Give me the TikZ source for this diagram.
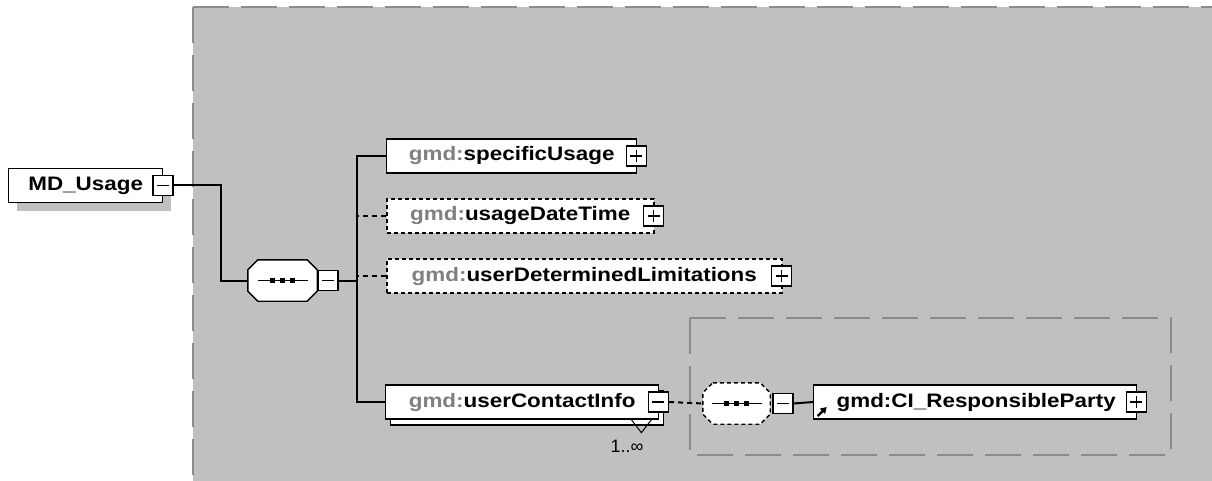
\documentclass[tikz,border=0pt]{standalone}
\usepackage{fontspec}
\setmainfont{Liberation Sans}
\newfontfamily\boxfont[FakeStretch=1.15]{Liberation Sans}
\usetikzlibrary{shadows,arrows.meta}

\definecolor{areagray}{RGB}{192,192,192}
\definecolor{framegray}{RGB}{140,140,140}
\definecolor{prefixgray}{RGB}{128,128,128}

\newcommand{\gmdprefix}{\textcolor{prefixgray}{gmd:}}
% octagon outline with the sequence mark, round a named node
\newcommand{\seqoutline}[2][]{%
  \draw[line width=1.4pt, fill=white, #1] ([xshift=10pt]#2.north west) -- ([xshift=-10pt]#2.north east)
    -- ([yshift=-10pt]#2.north east) -- ([yshift=10pt]#2.south east)
    -- ([xshift=-10pt]#2.south east) -- ([xshift=10pt]#2.south west)
    -- ([yshift=10pt]#2.south west) -- ([yshift=-10pt]#2.north west) -- cycle;
  \draw[line width=1.4pt] ([xshift=-25pt]#2.center) -- ([xshift=25pt]#2.center);
  \foreach \dx in {-10,0,10}
    \fill[black] ([xshift=\dx pt]#2.center) +(-2.5pt,-2.5pt) rectangle +(2.5pt,2.5pt);}

\tikzset{
  elem/.style={draw, fill=white, line width=1.4pt, anchor=west, inner sep=0pt,
    minimum height=34pt, font=\boxfont\bfseries\fontsize{19.5}{20}\selectfont,
    drop shadow={shadow xshift=8pt, shadow yshift=-8pt, fill=areagray, opacity=1}},
  optelem/.style={elem, dash pattern=on 4pt off 3pt, line width=1.6pt},
  refelem/.style={path picture={
    \draw[solid, black, line width=2.4pt, -{Triangle[length=6pt,width=7pt]}]
      ([shift={(4pt,3pt)}]path picture bounding box.south west) -- ++(9pt,9pt);}},
  expander/.style={draw, fill=white, solid, line width=1.4pt, minimum size=20pt, inner sep=0pt},
  minusbox/.style={expander, path picture={
    \draw[solid, line width=1.3pt] ([xshift=-6pt]path picture bounding box.center)
      -- ([xshift=6pt]path picture bounding box.center);}},
  plusbox/.style={expander, path picture={
    \draw[solid, line width=1.3pt] ([xshift=-6pt]path picture bounding box.center)
      -- ([xshift=6pt]path picture bounding box.center);
    \draw[solid, line width=1.3pt] ([yshift=-6pt]path picture bounding box.center)
      -- ([yshift=6pt]path picture bounding box.center);}},
  seqnode/.style={minimum width=69pt, minimum height=41pt, inner sep=0pt},
  conn/.style={line width=2pt},
  optconn/.style={conn, dash pattern=on 5pt off 4pt},
  frame/.style={framegray, line width=1.3pt, dash pattern=on 36pt off 12pt}
}

\begin{document}
\begin{tikzpicture}[x=1pt, y=-1pt]
\useasboundingbox (0,0) rectangle (1212,481);
% content area
\fill[areagray] (193,7) rectangle (1212,481);
\draw[frame] (193,7) -- (1212,7);
\draw[frame] (193,7) -- (193,481);
\draw[frame] (690,318) rectangle (1171,455);

% root element
\node[elem, minimum width=154pt] (md) at (8,185.5) {MD\_Usage};
\node[minusbox] (mdx) at ([xshift=-0.5pt]md.east) {};

% sequence
\node[seqnode] (seq) at (282.5,280.5) {};
\seqoutline{seq}
\node[minusbox, anchor=west] (seqx) at (seq.east) {};
\coordinate (fork) at (357,280.5);

% children
\node[elem, minimum width=250pt] (spec) at (386,156) {\gmdprefix specificUsage};
\node[plusbox] (specx) at ([xshift=-1pt]spec.east) {};
\node[optelem, minimum width=267pt] (date) at (386,216) {\gmdprefix usageDateTime};
\node[plusbox] (datex) at ([xshift=-1pt]date.east) {};
\node[optelem, minimum width=395pt] (lim) at (386,276) {\gmdprefix userDeterminedLimitations};
\node[plusbox] (limx) at ([xshift=-1pt]lim.east) {};
\node[elem, minimum width=273pt,
  copy shadow={shadow xshift=5pt, shadow yshift=-6pt, line width=1.4pt}] (contact)
  at (385,402) {\gmdprefix userContactInfo};
\node[minusbox] (contactx) at ([xshift=-1pt]contact.east) {};
\draw[line width=1pt] ([xshift=-28pt]contact.south east) -- ++(10,13) -- ++(10,-13);
\node[font=\fontsize{18}{19}\selectfont] (mult) at (627,446) {1..∞};

% contact info type
\node[seqnode, minimum width=67pt] (choice) at (736.5,403.5) {};
\seqoutline[dash pattern=on 4pt off 3pt]{choice}
\node[minusbox, anchor=west] (choicex) at ([xshift=2pt]choice.east) {};
\node[elem, refelem, minimum width=323pt] (party) at (813,402) {\hspace{2pt}gmd:CI\_ResponsibleParty};
\node[plusbox] (partyx) at ([xshift=-1pt]party.east) {};

% connectors
\draw[conn] (mdx.east) -- ++(47,0) |- (seq.west);
\draw[conn] (seqx.east) -- (fork);
\draw[conn] (spec.west) -| (fork) |- (contact.west);
\draw[optconn] (date.west) -- (date.west -| fork);
\draw[optconn] (lim.west) -- (lim.west -| fork);
\draw[optconn] (contactx.east) -- (choice.west);
\draw[conn] (choicex.east) -- (party.west);
\end{tikzpicture}
\end{document}
